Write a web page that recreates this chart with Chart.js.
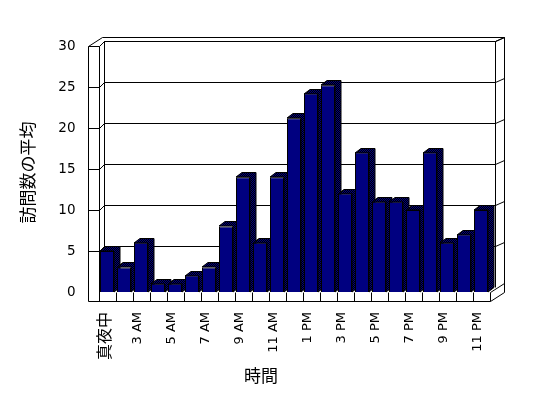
<!DOCTYPE html>
<html>
<head>
<meta charset="utf-8">
<script src="https://cdn.jsdelivr.net/npm/chart.js"></script>
<style>
  html, body { margin: 0; padding: 0; background: #fff; }
</style>
</head>
<body>
<canvas id="chart" width="548" height="398"></canvas>
<script>
// --- data ---
const hours = ['真夜中', '2 AM', '3 AM', '4 AM', '5 AM', '6 AM', '7 AM', '8 AM', '9 AM', '10 AM', '11 AM', '12 PM',
  '1 PM', '2 PM', '3 PM', '4 PM', '5 PM', '6 PM', '7 PM', '8 PM', '9 PM', '10 PM', '11 PM'];
const visits = [5, 3, 6, 1, 1, 2, 3, 8, 14, 6, 14, 21.2, 24.2, 25.2, 12, 17, 11, 11, 10, 17, 6, 7, 10];
const yTicks = [0, 5, 10, 15, 20, 25, 30];
const xTitle = '時間';
const yTitle = '訪問数の平均';

const latin = "'DejaVu Sans', sans-serif";
const cjk = "'Noto Sans CJK JP', sans-serif";

// --- 3D box geometry (pixels) ---
const SLAB = 11;          // left wall front face width
const FLOOR = 9;          // floor front face height
const WALL = [5, -5];     // front plane -> back wall face
const OUTER = [14, -9.5]; // front plane -> outer back edge
const BAR = [6, -4.5];    // bar depth

const ctx = document.getElementById('chart').getContext('2d');

// dithered navy/black fill for the bar sides
const pc = document.createElement('canvas');
pc.width = pc.height = 2;
const pctx = pc.getContext('2d');
pctx.fillStyle = '#000';
pctx.fillRect(0, 0, 2, 2);
pctx.fillStyle = '#000080';
pctx.fillRect(0, 0, 1, 1);
pctx.fillRect(1, 1, 1, 1);
const dither = ctx.createPattern(pc, 'repeat');

const box3d = {
  id: 'box3d',
  beforeDatasetsDraw(chart) {
    const { ctx, chartArea: a, scales: { y } } = chart;
    const L = a.left, R = a.right, T = a.top, B = a.bottom;
    const p = v => Math.round(v) + 0.5;
    const line = (x1, y1, x2, y2) => { ctx.moveTo(p(x1), p(y1)); ctx.lineTo(p(x2), p(y2)); };
    ctx.save();
    ctx.lineWidth = 1;
    ctx.strokeStyle = '#000';

    // outer outline of walls + floor
    ctx.beginPath();
    ctx.moveTo(p(L - SLAB), p(T));
    ctx.lineTo(p(L - SLAB + OUTER[0]), p(T + OUTER[1]));
    ctx.lineTo(p(R + OUTER[0]), p(T + OUTER[1]));
    ctx.lineTo(p(R + OUTER[0]), p(B + FLOOR + OUTER[1]));
    ctx.lineTo(p(R), p(B + FLOOR));
    ctx.lineTo(p(L - SLAB), p(B + FLOOR));
    ctx.closePath();
    ctx.fillStyle = '#fff';
    ctx.fill();
    ctx.stroke();

    ctx.beginPath();
    // inner wall edges
    line(L, T, L, B + FLOOR);
    line(L, T, L + WALL[0], T + WALL[1]);
    line(L + WALL[0], T + WALL[1], L + WALL[0], B + WALL[1]);
    line(L + WALL[0], T + WALL[1], R + WALL[0], T + WALL[1]);
    line(R + WALL[0], T + WALL[1], R + OUTER[0], T + OUTER[1]);
    line(R + WALL[0], T + WALL[1], R + WALL[0], B + WALL[1]);
    // floor front face and right side
    line(R, B, R, B + FLOOR);
    line(R, B, R + OUTER[0], B + OUTER[1]);
    const n = chart.data.labels.length;
    for (let k = 0; k < n; k++) {
      const x = L + (R - L) * k / n;
      line(x, B, x, B + FLOOR);
    }
    // gridlines wrapped round the walls
    yTicks.forEach(v => {
      if (!v) return;
      const yy = y.getPixelForValue(v);
      line(L - SLAB, yy, L, yy);
      line(L, yy, L + WALL[0], yy + WALL[1]);
      line(L + WALL[0], yy + WALL[1], R + WALL[0], yy + WALL[1]);
      line(R + WALL[0], yy + WALL[1], R + OUTER[0], yy + OUTER[1]);
    });
    ctx.stroke();

    // bar tops and sides (fronts are drawn by Chart.js afterwards)
    const meta = chart.getDatasetMeta(0);
    meta.data.forEach(bar => {
      const { x, y: top, base, width } = bar.getProps(['x', 'y', 'base', 'width'], true);
      const x0 = Math.round(x - width / 2), x1 = Math.round(x + width / 2);
      const t = Math.round(top), b = Math.round(base);
      ctx.beginPath();
      ctx.moveTo(x0, t);
      ctx.lineTo(x0 + BAR[0], t + BAR[1]);
      ctx.lineTo(x1 + BAR[0], t + BAR[1]);
      ctx.lineTo(x1 + BAR[0], b + BAR[1]);
      ctx.lineTo(x1, b);
      ctx.lineTo(x1, t);
      ctx.closePath();
      ctx.fillStyle = dither;
      ctx.fill();
      ctx.stroke();
    });
    ctx.restore();
  },
  afterDraw(chart) {
    const { ctx } = chart;
    ctx.save();
    ctx.fillStyle = '#000';
    ctx.font = "17px 'Noto Sans CJK JP'";
    ctx.textAlign = 'center';
    ctx.textBaseline = 'middle';
    ctx.fillText(xTitle, 261, 376);
    ctx.translate(27.5, 172.5);
    ctx.rotate(-Math.PI / 2);
    ctx.fillText(yTitle, 0, 0);
    ctx.restore();
  }
};

new Chart(ctx, {
  type: 'bar',
  data: {
    labels: hours,
    datasets: [{
      data: visits,
      backgroundColor: '#000080',
      borderColor: '#000',
      borderWidth: 1,
      barPercentage: 14 / 17,
      categoryPercentage: 1
    }]
  },
  options: {
    responsive: false,
    animation: false,
    devicePixelRatio: 1,
    layout: { padding: { top: 46, right: 58.5, bottom: 0, left: 0 } },
    plugins: {
      legend: { display: false },
      tooltip: { enabled: false }
    },
    scales: {
      x: {
        grid: { display: false, drawTicks: false },
        border: { display: false },
        ticks: {
          autoSkip: false,
          minRotation: 90,
          maxRotation: 90,
          padding: 20,
          labelOffset: -3,
          color: '#000',
          callback: (v, i) => (i % 2 === 0 ? hours[i] : ''),
          font: c => (c.index === 0 ? { family: cjk, size: 16 } : { family: latin, size: 13 })
        },
        afterFit: s => { s.height = 106; }
      },
      y: {
        min: 0,
        max: 30,
        grid: { display: false, drawTicks: false },
        border: { display: false },
        ticks: {
          stepSize: 5,
          padding: 23,
          color: '#000',
          font: { family: latin, size: 13.5 }
        },
        afterFit: s => { s.width = 98.5; }
      }
    }
  },
  plugins: [box3d]
});
</script>
</body>
</html>
